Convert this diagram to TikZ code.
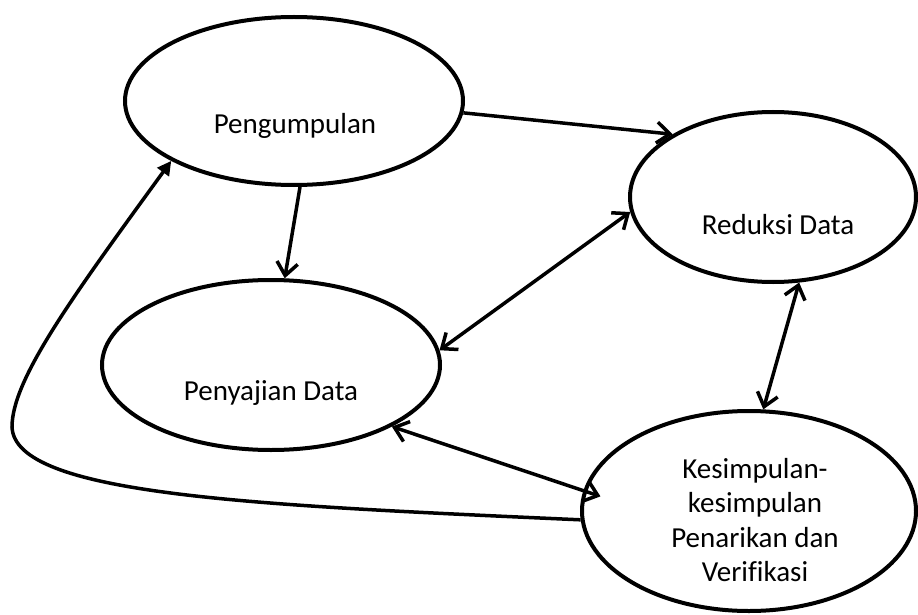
\documentclass[tikz,border=0pt]{standalone}
\usepackage{fontspec}
\setmainfont{Carlito}[Ligatures=CommonOff]
\usetikzlibrary{shapes.geometric,arrows.meta}
\tikzset{%
    bubble/.style={%
        ellipse, draw, line width=4pt, inner sep=0pt},
    caption/.style={%
        font=\fontsize{29}{34.5}\selectfont, align=center, inner sep=0pt},
    flow/.style={%
        line width=3.5pt, >={Straight Barb[length=13pt,width=21pt]}}
}

\begin{document}
\begin{tikzpicture}[x=1pt,y=-1pt]
    \useasboundingbox (0,0) rectangle (918,615);
%-----------------------------------------------
    \node[bubble, minimum width=338pt, minimum height=168pt] (peng) at (294,101) {};
    \node[bubble, minimum width=286pt, minimum height=170pt] (redu) at (773,197) {};
    \node[bubble, minimum width=338pt, minimum height=170pt] (peny) at (271,365) {};
    \node[bubble, minimum width=334pt, minimum height=200pt] (kesi) at (749,511) {};
%-----------------------------------------------
    \node[caption] (peng-txt) at (295,126) {Pengumpulan};
    \node[caption] (redu-txt) at (778,225) {Reduksi Data};
    \node[caption] (peny-txt) at (271,393) {Penyajian Data};
    \node[caption] (kesi-txt) at (755,520) {Kesimpulan-\\kesimpulan\\Penarikan dan\\Verifikasi};
%-----------------------------------------------
    \draw[->,flow] (peng.-4) -- (redu.148.5);
    \draw[->,flow] (peng.-86) -- (peny.81);
    \draw[<->,flow] (peny.5) -- (redu.186);
    \draw[<->,flow,shorten >=-18pt] (peny.-27) -- (kesi.173);
    \draw[<->,flow] (redu.-73) -- (kesi.82);
%-----------------------------------------------
    \draw[-{Triangle[length=14pt,width=14pt]},line width=3.5pt] (kesi.183.4)
        .. controls (250,505) and (15,495) .. (12,427)
        .. controls (12,380) and (70,300) .. (peng.206);
\end{tikzpicture}
\end{document}
